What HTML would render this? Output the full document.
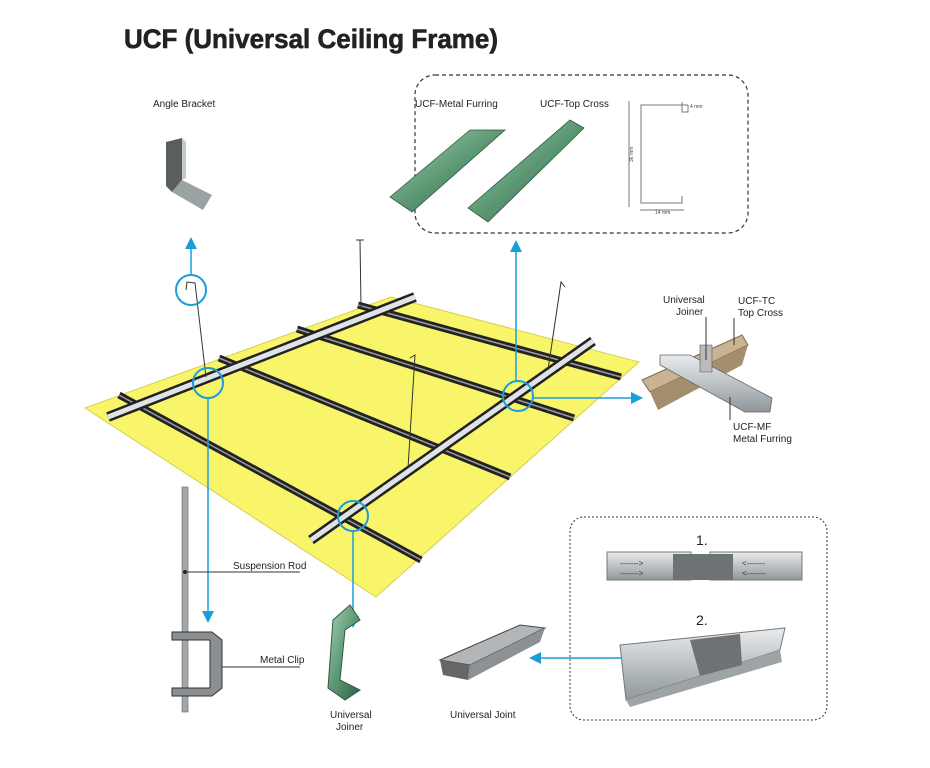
<!DOCTYPE html>
<html><head><meta charset="utf-8"><style>
html,body{margin:0;padding:0;background:#fff;}
svg{display:block;font-family:"Liberation Sans",sans-serif;}
</style></head><body>
<svg width="930" height="768" viewBox="0 0 930 768" xmlns="http://www.w3.org/2000/svg">
<defs>
<linearGradient id="g1" x1="0" y1="0" x2="0" y2="1"><stop offset="0" stop-color="#e9ecee"/><stop offset="1" stop-color="#8f979c"/></linearGradient>
<linearGradient id="gr" x1="0" y1="0" x2="1" y2="1"><stop offset="0" stop-color="#a7d3b8"/><stop offset="0.5" stop-color="#5d9874"/><stop offset="1" stop-color="#2f5f44"/></linearGradient>
<marker id="ar" markerWidth="8" markerHeight="8" refX="6" refY="4" orient="auto"><path d="M0,0 L8,4 L0,8 z" fill="#1a9ed8"/></marker>
</defs>
<text x="124" y="48" font-size="27" font-weight="bold" fill="#222" stroke="#222" stroke-width="0.6" textLength="374" lengthAdjust="spacingAndGlyphs">UCF (Universal Ceiling Frame)</text>

<polygon points="85,408 391,297 639,362 376,597" fill="#f9f56a" stroke="#d8cf50"/>

<g>
<line x1="119" y1="395" x2="421" y2="560" stroke="#222" stroke-width="7"/>
<line x1="119" y1="395" x2="421" y2="560" stroke="#9a9a9a" stroke-width="1.5"/>
<line x1="219" y1="358" x2="510" y2="477" stroke="#222" stroke-width="7"/>
<line x1="219" y1="358" x2="510" y2="477" stroke="#9a9a9a" stroke-width="1.5"/>
<line x1="297" y1="329" x2="574" y2="418" stroke="#222" stroke-width="7"/>
<line x1="297" y1="329" x2="574" y2="418" stroke="#9a9a9a" stroke-width="1.5"/>
<line x1="358" y1="305" x2="621" y2="377" stroke="#222" stroke-width="7"/>
<line x1="358" y1="305" x2="621" y2="377" stroke="#9a9a9a" stroke-width="1.5"/>
</g>
<line x1="108" y1="417" x2="415" y2="297" stroke="#222" stroke-width="10"/>
<line x1="108" y1="417" x2="415" y2="297" stroke="#dfe3e6" stroke-width="5"/>
<line x1="311" y1="540" x2="593" y2="341" stroke="#222" stroke-width="10"/>
<line x1="311" y1="540" x2="593" y2="341" stroke="#dfe3e6" stroke-width="5"/>

<g stroke="#333" stroke-width="1" fill="none">
<path d="M186,290 L187,282 L195,283 L206,377"/>
<path d="M360,240 L361,307"/><path d="M356,240 L364,240"/>
<path d="M410,358 L415,355 L408,468"/>
<path d="M565,287 L561,282 L548,370"/>
</g>

<g stroke="#1a9ed8" stroke-width="2" fill="none">
<circle cx="191" cy="290" r="15"/>
<circle cx="208" cy="383" r="15"/>
<circle cx="518" cy="396" r="15"/>
<circle cx="353" cy="516" r="15"/>
</g>
<g stroke="#1a9ed8" stroke-width="1.5" fill="none">
<line x1="191" y1="275" x2="191" y2="240" marker-end="url(#ar)"/>
<line x1="208" y1="398" x2="208" y2="620" marker-end="url(#ar)"/>
<line x1="516" y1="381" x2="516" y2="243" marker-end="url(#ar)"/>
<line x1="533" y1="398" x2="640" y2="398" marker-end="url(#ar)"/>
<line x1="353" y1="531" x2="353" y2="625" marker-end="url(#ar)"/>
<line x1="722" y1="658" x2="532" y2="658" marker-end="url(#ar)"/>
</g>

<text x="153" y="107" font-size="10" fill="#222">Angle Bracket</text>
<polygon points="166,142 182,138 182,180 172,192 166,186" fill="#5a5f5e"/>
<polygon points="172,192 182,180 212,195 203,210" fill="#9aa3a3"/>
<polygon points="182,138 186,142 186,178 182,180" fill="#c3c9c8"/>

<rect x="415" y="75" width="333" height="158" rx="20" fill="none" stroke="#333" stroke-dasharray="4,3" stroke-width="1.2"/>
<text x="415" y="107" font-size="10" fill="#222">UCF-Metal Furring</text>
<text x="540" y="107" font-size="10" fill="#222">UCF-Top Cross</text>
<polygon points="390,197 470,130 505,130 412,212" fill="url(#gr)" stroke="#2e5a42" stroke-width="0.8"/>
<polygon points="468,208 570,120 584,128 488,222" fill="url(#gr)" stroke="#2e5a42" stroke-width="0.8"/>
<g stroke="#777" stroke-width="1" fill="none">
<path d="M688,105 L641,105 L641,203 L682,203 L682,196"/>
<path d="M688,105 L688,112 L682,112 L682,102"/>
<line x1="629" y1="101" x2="629" y2="207"/>
<line x1="640" y1="210" x2="684" y2="210"/>
</g>
<text x="690" y="108" font-size="5" fill="#444">4 mm</text>
<text x="655" y="214" font-size="5" fill="#444">14 mm</text>
<text x="633" y="162" font-size="5" fill="#444" transform="rotate(-90 633 162)">36 mm</text>

<text x="663" y="303" font-size="10" fill="#222">Universal</text>
<text x="676" y="315" font-size="10" fill="#222">Joiner</text>
<text x="738" y="304" font-size="10" fill="#222">UCF-TC</text>
<text x="738" y="316" font-size="10" fill="#222">Top Cross</text>
<polygon points="642,380 742,335 748,345 650,392" fill="#c9b391" stroke="#7a6a52"/>
<polygon points="650,392 748,345 742,365 658,410" fill="#a38e6e"/>
<polygon points="660,355 690,355 772,398 770,412 745,412 660,365" fill="url(#g1)" stroke="#666" stroke-width="0.8"/>
<polygon points="700,345 712,345 712,372 700,372" fill="#bbb" stroke="#555" stroke-width="0.6"/>
<line x1="706" y1="360" x2="706" y2="317" stroke="#333"/>
<line x1="734" y1="345" x2="734" y2="318" stroke="#333"/>
<line x1="730" y1="397" x2="730" y2="420" stroke="#333"/>
<text x="733" y="430" font-size="10" fill="#222">UCF-MF</text>
<text x="733" y="442" font-size="10" fill="#222">Metal Furring</text>

<rect x="182" y="487" width="6" height="225" fill="#a3a7a9" stroke="#666" stroke-width="0.6"/>
<circle cx="185" cy="572" r="2" fill="#222"/>
<line x1="185" y1="572" x2="300" y2="572" stroke="#333"/>
<text x="233" y="569" font-size="10" fill="#222">Suspension Rod</text>
<path d="M172,632 L212,632 L222,640 L222,688 L212,696 L172,696 L172,688 L210,688 L210,640 L172,640 z" fill="#8b8f91" stroke="#333"/>
<line x1="222" y1="667" x2="300" y2="667" stroke="#333"/>
<text x="260" y="663" font-size="10" fill="#222">Metal Clip</text>

<path d="M333,620 L350,605 L360,620 L345,630 L340,680 L360,690 L345,700 L328,688 z" fill="url(#gr)" stroke="#2e5a42"/>
<text x="330" y="718" font-size="10" fill="#222">Universal</text>
<text x="336" y="730" font-size="10" fill="#222">Joiner</text>

<polygon points="440,660 520,625 545,628 470,665" fill="#b2b6b8" stroke="#444"/>
<polygon points="440,660 470,665 468,680 443,675" fill="#666"/>
<polygon points="470,665 545,628 540,642 468,680" fill="#8d9194"/>
<text x="450" y="718" font-size="10" fill="#222">Universal Joint</text>

<rect x="570" y="517" width="257" height="203" rx="14" fill="none" stroke="#333" stroke-dasharray="2,2" stroke-width="1"/>
<text x="696" y="545" font-size="14" fill="#222">1.</text>
<rect x="607" y="552" width="84" height="28" fill="url(#g1)" stroke="#777"/>
<rect x="710" y="552" width="92" height="28" fill="url(#g1)" stroke="#777"/>
<rect x="673" y="554" width="60" height="26" fill="#6d7275"/>
<text x="620" y="566" font-size="8" fill="#333">-------&gt;</text>
<text x="620" y="576" font-size="8" fill="#333">-------&gt;</text>
<text x="742" y="566" font-size="8" fill="#333">&lt;-------</text>
<text x="742" y="576" font-size="8" fill="#333">&lt;-------</text>
<text x="696" y="625" font-size="14" fill="#222">2.</text>
<polygon points="620,645 785,628 780,650 626,700" fill="url(#g1)" stroke="#777"/>
<polygon points="626,700 780,650 782,662 630,707" fill="#9ea3a6"/>
<polygon points="690,640 740,634 742,665 700,676" fill="#6d7275"/>
</svg>
</body></html>
